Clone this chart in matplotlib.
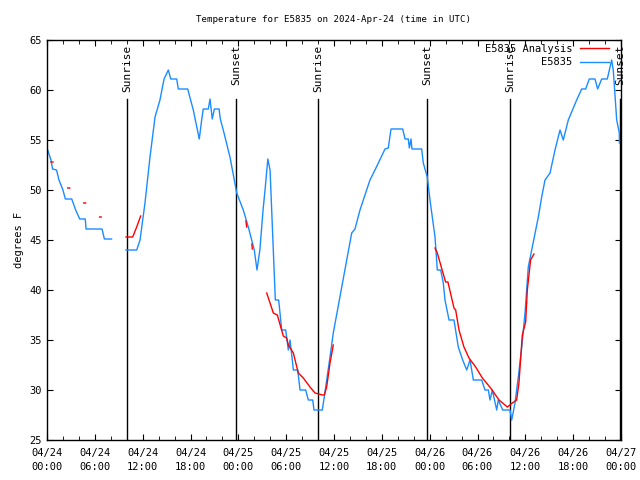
import matplotlib
matplotlib.use("Agg")
import matplotlib.pyplot as plt
import matplotlib.dates as mdates
import numpy as np
import pandas as pd

start = pd.Timestamp("2024-04-24 00:00")
nan = np.nan

# observed station temps: hours since 04/24 00:00 UTC, degrees F
obs_hours = [0.0, 0.5, 0.7, 1.2, 1.5, 2.0, 2.3, 3.1, 3.6, 4.1, 4.8, 4.9, 6.9, 7.2, 8.1,
             nan,
             9.91, 11.25, 11.67, 12.29, 12.92, 13.55, 14.17, 14.68, 15.22, 15.52, 16.27,
             16.47, 17.65, 18.35, 19.1, 19.4, 19.6, 20.23, 20.45, 20.73, 20.99, 21.58,
             21.74, 22.11, 22.95, 23.8, 24.62, 25.25, 26.0, 26.34, 26.7, 27.1, 27.35,
             27.7, 27.98, 28.39, 28.64, 29.06, 29.31, 29.44, 29.94, 30.27, 30.48, 30.77,
             30.9, 31.45, 31.74, 32.45, 32.78, 33.33, 33.49, 34.53, 34.78, 35.5, 35.91,
             36.67, 37.59, 38.22, 38.63, 39.26, 40.51, 41.14, 42.4, 42.81, 43.15, 44.62,
             44.91, 45.32, 45.45, 45.66, 45.78, 47.0, 47.2, 47.7, 48.04, 48.67, 48.96,
             49.38, 49.71, 49.92, 50.43, 51.05, 51.59, 52.14, 52.65, 53.06, 53.48, 54.53,
             54.94, 55.36, 55.57, 55.86, 56.41, 56.61, 57.16, 58.08, 58.29, 58.7, 59.12,
             59.55, 59.96, 60.37, 60.8, 61.63, 62.05, 62.47, 63.1, 63.72, 64.35, 64.76,
             65.39, 66.44, 67.07, 67.57, 68.02, 68.74, 69.07, 69.58, 70.28, 70.83, 71.03,
             71.46, 71.79, 71.8]
obs_temps = [54.2, 53.0, 52.1, 52.0, 51.0, 50.0, 49.1, 49.1, 48.0, 47.1, 47.1, 46.1, 46.1, 45.1, 45.1,
             nan,
             44.0, 44.0, 45.0, 48.7, 53.3, 57.3, 59.0, 61.1, 62.0, 61.1, 61.1,
             60.1, 60.1, 58.0, 55.1, 57.0, 58.1, 58.1, 59.1, 57.1, 58.1, 58.1,
             57.1, 56.0, 53.3, 49.7, 48.0, 46.3, 44.0, 42.0, 44.0, 48.0, 50.0,
             53.1, 52.0, 44.0, 39.0, 39.0, 37.0, 36.0, 36.0, 34.0, 35.0, 33.0,
             32.0, 32.0, 30.0, 30.0, 29.0, 29.0, 28.0, 28.0, 29.3, 33.3, 35.7,
             39.0, 43.0, 45.7, 46.1, 48.0, 51.0, 52.0, 54.1, 54.2, 56.1, 56.1,
             55.1, 55.1, 54.2, 55.1, 54.1, 54.1, 52.7, 51.3, 49.0, 45.3, 42.0,
             42.0, 40.7, 39.0, 37.0, 37.0, 34.3, 33.0, 32.0, 33.0, 31.0, 31.0,
             30.0, 30.0, 29.0, 30.0, 28.0, 29.0, 28.0, 28.0, 27.0, 28.7, 31.3,
             34.3, 37.7, 42.3, 44.0, 47.3, 49.3, 51.0, 51.7, 54.0, 56.0, 55.0,
             57.0, 59.0, 60.1, 60.1, 61.1, 61.1, 60.1, 61.1, 61.1, 63.0, 62.0,
             57.0, 55.7, 54.7]

# analysis values (gaps where missing)
ana_hours = [0.5, 0.75, nan, 2.6, 2.85, nan, 4.6, 4.85, nan, 6.6, 6.8, nan,
             9.91, 10.75, 11.25, 11.75, nan,
             24.95, 25.05, nan, 25.7, 25.75, nan,
             27.56, 28.39, 28.89, 29.64, 30.06, 30.27, 30.9, 31.52, 32.15, 32.99, 33.62,
             34.58, 34.78, 35.08, 35.5, 35.91, nan,
             48.67, 48.96, 49.67, 50.0, 50.29, 51.05, 51.26, 51.68, 52.3, 52.93, 53.77,
             54.61, 55.65, 56.7, 57.74, 58.37, 58.91, 59.2, 59.62, 60.04, 60.25, 60.66, 61.08]
ana_temps = [52.8, 52.8, nan, 50.2, 50.2, nan, 48.7, 48.7, nan, 47.3, 47.3, nan,
             45.3, 45.3, 46.3, 47.4, nan,
             46.9, 46.3, nan, 44.6, 44.1, nan,
             39.7, 37.7, 37.5, 35.4, 35.2, 34.5, 33.7, 31.7, 31.2, 30.3, 29.7,
             29.5, 29.5, 30.3, 32.7, 34.5, nan,
             44.2, 43.7, 41.7, 40.8, 40.8, 38.2, 38.0, 36.0, 34.3, 33.2, 32.3,
             31.2, 30.2, 29.0, 28.3, 28.7, 29.0, 30.7, 35.5, 36.8, 40.0, 43.0, 43.6]

sun_hours = [10.05, 23.71, 34.03, 47.71, 58.12, 71.87]
sun_labels = ["Sunrise", "Sunset", "Sunrise", "Sunset", "Sunrise", "Sunset"]

t0 = mdates.date2num(start)


def to_x(hours):
    return t0 + np.asarray(hours, dtype=float) / 24.0


plt.rcParams['font.family'] = 'DejaVu Sans Mono'
plt.rcParams['font.size'] = 7

fig = plt.figure(figsize=(6.4, 4.8), dpi=100)
ax = fig.add_axes([47 / 640, 40 / 480, 574 / 640, 400 / 480])

ax.plot(to_x(ana_hours), ana_temps, color='#ff0000', lw=1.0, label='E5835 Analysis', zorder=3)
ax.plot(to_x(obs_hours), obs_temps, color='#1a8cff', lw=1.0, label='E5835', zorder=2)

for h, lab in zip(sun_hours, sun_labels):
    x = to_x(h)
    ax.plot([x, x], [25, 59.1], color='black', lw=1.0, zorder=1)
    ax.text(x, 64.5, lab, rotation=90, ha='center', va='top', fontsize=8)

ax.set_xlim(to_x(0), to_x(72))
ax.set_ylim(25, 65)
ax.set_yticks(range(25, 66, 5))
ax.xaxis.set_major_locator(mdates.HourLocator(byhour=range(0, 24, 6)))
ax.xaxis.set_minor_locator(mdates.HourLocator(byhour=range(0, 24, 2)))
ax.xaxis.set_major_formatter(mdates.DateFormatter('%m/%d\n%H:%M'))
ax.tick_params(which='both', direction='in', top=True, right=True, labelsize=7.5)
ax.tick_params(which='major', length=4)
ax.tick_params(which='minor', length=3)
ax.tick_params(axis='x', pad=6)
for s in ax.spines.values():
    s.set_linewidth(1.0)

ax.set_ylabel('degrees F', fontsize=7.5)
ax.set_title('Temperature for E5835 on 2024-Apr-24 (time in UTC)', fontsize=6.6, pad=13)

ax.legend(loc='upper right', bbox_to_anchor=(0.982, 0.995), frameon=False, markerfirst=False,
          handlelength=2.7, fontsize=7.5, borderaxespad=0.0, borderpad=0.2,
          labelspacing=0.3, handletextpad=0.8)

fig.canvas.draw()
plt.setp(ax.get_xticklabels(), linespacing=1.5)

fig.savefig('out.png', dpi=100)
